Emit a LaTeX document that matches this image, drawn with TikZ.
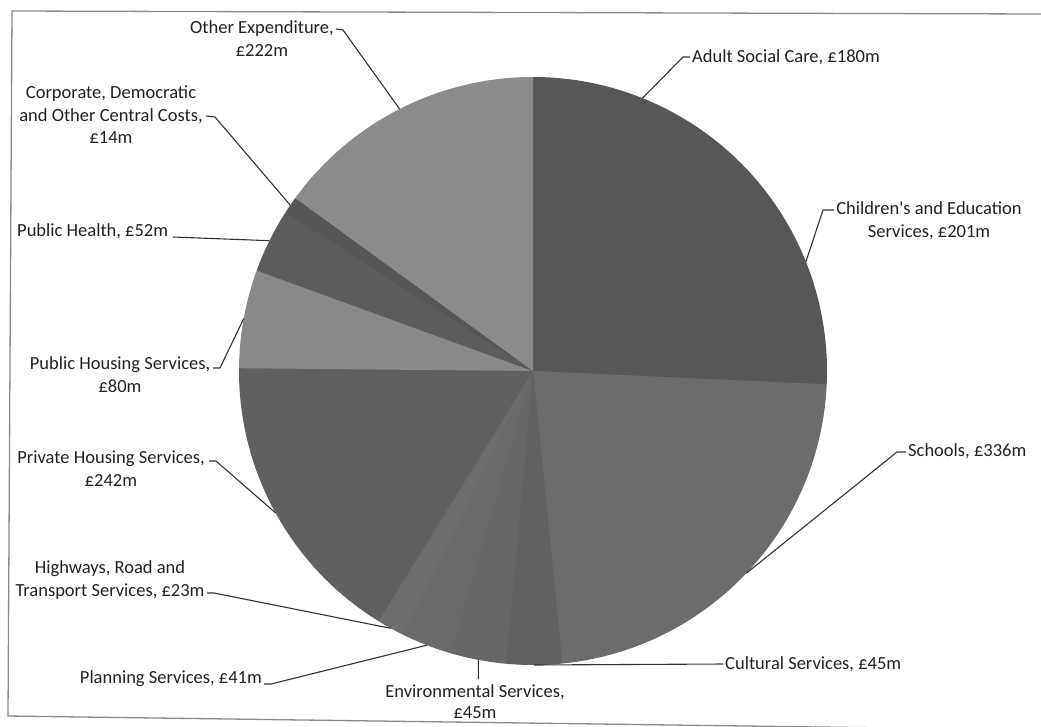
\documentclass[tikz,border=0pt]{standalone}
\usepackage{fontspec}
\setmainfont{Carlito}
\usetikzlibrary{calc}
\definecolor{labelgray}{HTML}{222222}
\definecolor{leadergray}{HTML}{333333}
\definecolor{framegray}{HTML}{8A8A8A}
\definecolor{sBase}{HTML}{646464}
\definecolor{sAdult}{HTML}{575757}
\definecolor{sChild}{HTML}{575757}
\definecolor{sSchool}{HTML}{6C6C6C}
\definecolor{sCult}{HTML}{626262}
\definecolor{sEnv}{HTML}{676767}
\definecolor{sPlan}{HTML}{6A6A6A}
\definecolor{sHigh}{HTML}{6D6D6D}
\definecolor{sPriv}{HTML}{606060}
\definecolor{sPubHou}{HTML}{898989}
\definecolor{sPubHea}{HTML}{5C5C5C}
\definecolor{sCorp}{HTML}{565656}
\definecolor{sOther}{HTML}{8B8B8B}
\begin{document}
\begin{tikzpicture}[x=1pt,y=-1pt,
  lbl/.style={inner sep=0pt, font=\fontsize{18.5}{22}\selectfont, text=labelgray},
  leader/.style={draw=leadergray, line width=1.1pt, line join=round},
  frameline/.style={draw=framegray, line width=1.3pt}]
\fill[white] (0,0) rectangle (1041,726);
\useasboundingbox (0,0) rectangle (1041,726);
% frame
\draw[frameline] (1041,14) -- (12,11) -- (8,716) -- (1041,730);
% pie
\coordinate (C) at (533,371);
\def\R{294}
\fill[sBase] (C) circle[radius=\R-0.6];
\fill[sAdult]  (C) -- ($(C)+(-90:\R)$) arc[start angle=-90, end angle=-46.246, radius=\R] -- cycle;
\fill[sChild]  (C) -- ($(C)+(-46.246:\R)$) arc[start angle=-46.246, end angle=2.613, radius=\R] -- cycle;
\fill[sSchool] (C) -- ($(C)+(2.613:\R)$) arc[start angle=2.613, end angle=84.288, radius=\R] -- cycle;
\fill[sCult]   (C) -- ($(C)+(84.288:\R)$) arc[start angle=84.288, end angle=95.227, radius=\R] -- cycle;
\fill[sEnv]    (C) -- ($(C)+(95.227:\R)$) arc[start angle=95.227, end angle=106.166, radius=\R] -- cycle;
\fill[sPlan]   (C) -- ($(C)+(106.166:\R)$) arc[start angle=106.166, end angle=116.132, radius=\R] -- cycle;
\fill[sHigh]   (C) -- ($(C)+(116.132:\R)$) arc[start angle=116.132, end angle=121.723, radius=\R] -- cycle;
\fill[sPriv]   (C) -- ($(C)+(121.723:\R)$) arc[start angle=121.723, end angle=180.548, radius=\R] -- cycle;
\fill[sPubHou] (C) -- ($(C)+(180.548:\R)$) arc[start angle=180.548, end angle=199.994, radius=\R] -- cycle;
\fill[sPubHea] (C) -- ($(C)+(199.994:\R)$) arc[start angle=199.994, end angle=212.634, radius=\R] -- cycle;
\fill[sCorp]   (C) -- ($(C)+(212.634:\R)$) arc[start angle=212.634, end angle=216.037, radius=\R] -- cycle;
\fill[sOther]  (C) -- ($(C)+(216.037:\R)$) arc[start angle=216.037, end angle=270, radius=\R] -- cycle;
% rim points (slice mid angles)
\coordinate (rAd) at ($(C)+(-68.12:\R)$);
\coordinate (rCh) at ($(C)+(-21.82:\R)$);
\coordinate (rSc) at ($(C)+(43.45:\R)$);
\coordinate (rCu) at ($(C)+(89.76:\R)$);
\coordinate (rEn) at ($(C)+(100.70:\R)$);
\coordinate (rPl) at ($(C)+(111.15:\R)$);
\coordinate (rHw) at ($(C)+(118.93:\R)$);
\coordinate (rPv) at ($(C)+(151.14:\R)$);
\coordinate (rHs) at ($(C)+(190.27:\R)$);
\coordinate (rPh) at ($(C)+(206.31:\R)$);
\coordinate (rCo) at ($(C)+(214.34:\R)$);
\coordinate (rOe) at ($(C)+(243.02:\R)$);
% labels
\node[lbl, anchor=base] (oe1) at (262,33) {Other Expenditure,};
\node[lbl, anchor=base] (oe2) at (262,56) {£222m};
\node[lbl, anchor=base] (co1) at (111,98) {Corporate, Democratic};
\node[lbl, anchor=base] (co2) at (111,121) {and Other Central Costs,};
\node[lbl, anchor=base] (co3) at (111,143) {£14m};
\node[lbl, anchor=base west] (ph) at (17,236) {Public Health, £52m};
\node[lbl, anchor=base] (hs1) at (120,369) {Public Housing Services,};
\node[lbl, anchor=base] (hs2) at (120,392) {£80m};
\node[lbl, anchor=base] (pv1) at (111,463) {Private Housing Services,};
\node[lbl, anchor=base] (pv2) at (111,486) {£242m};
\node[lbl, anchor=base] (hw1) at (110,573) {Highways, Road and};
\node[lbl, anchor=base] (hw2) at (110,596) {Transport Services, £23m};
\node[lbl, anchor=base east] (pl) at (262,683) {Planning Services, £41m};
\node[lbl, anchor=base] (en1) at (475,697) {Environmental Services,};
\node[lbl, anchor=base] (en2) at (475,718) {£45m};
\node[lbl, anchor=base west] (cu) at (725,669) {Cultural Services, £45m};
\node[lbl, anchor=base west] (sc) at (908,456) {Schools, £336m};
\node[lbl, anchor=base] (ch1) at (929,214) {Children\textquotesingle s and Education};
\node[lbl, anchor=base] (ch2) at (929,237) {Services, £201m};
\node[lbl, anchor=base west] (ad) at (692,62) {Adult Social Care, £180m};
% leader ends and kinks
\coordinate (eOe) at (336,29);  \coordinate (kOe) at (343,30);
\coordinate (eCo) at (206,116); \coordinate (kCo) at (215,117);
\coordinate (ePh) at (173,237);
\coordinate (eHs) at (213,368); \coordinate (kHs) at (220,368);
\coordinate (ePv) at (209,461); \coordinate (kPv) at (216,461);
\coordinate (eHw) at (207,593); \coordinate (kHw) at (214,593);
\coordinate (ePl) at (264,684); \coordinate (kPl) at (271,684);
\coordinate (kEn) at (478.4,679);
\coordinate (eCu) at (723,664);
\coordinate (eSc) at (906,452); \coordinate (kSc) at (897,452);
\coordinate (eCh) at (834,210); \coordinate (kCh) at (823,210);
\coordinate (eAd) at (690,57);  \coordinate (kAd) at (683,57);
% leaders
\draw[leader] (eOe) -- (kOe) -- (rOe);
\draw[leader] (eCo) -- (kCo) -- (rCo);
\draw[leader] (ePh) -- (rPh);
\draw[leader] (eHs) -- (kHs) -- (rHs);
\draw[leader] (ePv) -- (kPv) -- (rPv);
\draw[leader] (eHw) -- (kHw) -- (rHw);
\draw[leader] (ePl) -- (kPl) -- (rPl);
\draw[leader] (rEn) -- (kEn);
\draw[leader] (rCu) -- (eCu);
\draw[leader] (rSc) -- (kSc) -- (eSc);
\draw[leader] (rCh) -- (kCh) -- (eCh);
\draw[leader] (rAd) -- (kAd) -- (eAd);
\end{tikzpicture}
\end{document}
